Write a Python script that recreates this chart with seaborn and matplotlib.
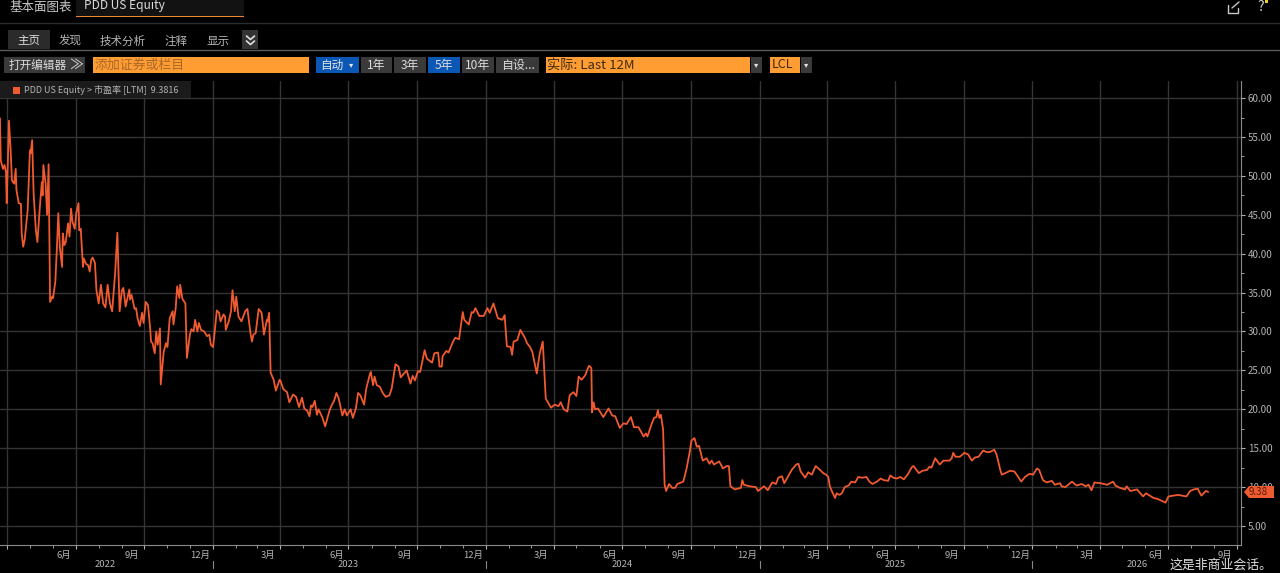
import pandas as pd
import numpy as np
import matplotlib
matplotlib.use('Agg')
import matplotlib.pyplot as plt
import matplotlib.dates as mdates
from matplotlib.patches import Rectangle, Polygon
from matplotlib.ticker import MultipleLocator, FormatStrFormatter
import seaborn as sns

# PDD US Equity - trailing P/E
start_date = '2022-04-01'

days = [-10,-9,-6,-4,-2,-1,2,4,6,9,11,12,15,18,19,21,23,27,30,31,33,35,38,40,44,46,47,48,51,53,55,57,60,61,64,66,68,70,73,74,76,78,81,83,85,87,90,92,95,96,98,
        101,102,105,108,110,112,114,117,119,122,125,128,131,134,137,140,144,147,150,153,155,158,163,164,166,170,172,174,177,180,182,185,188,191,192,194,197,199,
        201,204,205,209,212,214,217,221,222,225,227,230,231,234,238,240,244,246,249,251,254,256,259,263,267,270,272,275,277,280,283,285,289,291,292,296,299,
        301,304,306,309,313,318,321,325,327,329,332,336,340,343,347,348,350,352,356,359,364,
        365,369,374,377,382,386,390,394,397,401,404,406,408,411,414,416,421,425,428,431,434,437,440,443,448,451,454,459,462,466,469,472,477,480,485,486,489,491,494,498,
        502,506,511,514,519,523,526,534,539,542,545,549,552,558,561,568,571,576,578,581,582,587,590,596,599,604,609,611,617,621,623,626,631,637,642,645,650,656,662,665,668,673,675,677,682,686,692,695,699,
        702,708,712,716,720,724,727,732,737,740,744,749,752,757,761,764,
        768,773,776,778,781,782,784,786,790,797,804,809,813,819,824,828,834,838,844,851,854,856,862,865,868,870,872,874,877,879,881,885,889,893,896,
        904,908,912,915,919,922,925,930,935,939,942,945,952,957,962,965,967,973,981,983,985,993,1001,1004,1012,1017,1023,1028,1031,1036,1039,1049,1055,1058,1061,1067,1071,1076,1081,1087,
        1091,1095,1098,1100,1104,1107,1109,1113,1116,1120,1125,1129,1134,1138,1143,1149,1153,1157,1163,1168,1172,1178,1181,1185,1190,1194,1199,1204,1210,1212,1219,1224,1230,1233,1236,
        1241,1247,1252,1260,1263,1265,1268,1274,1280,1285,1290,1294,1299,1305,1310,1314,1320,1323,1326,1328,1330,1335,1341,1347,1352,1356,1361,1367,1372,1377,1380,1385,1390,1397,
        1401,1408,1410,1415,1424,1430,1437,1442,1446,1450,1454,1462,1471,1479,1482,1488,1495,1497,1502,1511,1519,1523,1533,1538,1549,1553,1560,1566,1571,1577,1582,1587,1592,1597,1600,1603,1606]

pe_values = [57.4,52.0,50.9,51.4,50.5,46.5,57.1,53.7,49.4,49.0,50.9,48.2,46.5,46.4,42.6,40.9,41.8,45.6,53.3,52.9,54.6,47.7,43.0,41.5,46.9,49.2,47.5,51.4,49.0,45.0,51.5,33.8,34.5,34.3,36.4,40.5,45.2,40.9,38.3,42.6,41.1,41.5,43.9,42.2,45.8,44.1,43.2,45.2,46.5,43.0,43.2,
             38.3,39.4,38.7,38.5,37.7,39.2,39.5,38.8,35.3,33.6,36.0,33.6,33.1,36.0,33.6,32.6,37.5,42.7,32.6,35.3,35.6,33.2,35.4,34.1,34.7,32.9,33.0,31.7,30.7,32.4,31.1,33.8,33.4,30.2,28.7,28.5,27.2,30.0,
             28.3,30.4,23.2,27.4,28.5,28.0,31.7,32.6,30.9,33.0,35.8,34.3,36.0,34.2,33.6,26.6,29.6,30.3,30.0,31.5,30.0,31.1,30.2,30.0,29.4,29.6,28.3,28.0,29.8,32.7,32.4,31.3,32.2,31.9,30.2,31.3,32.6,
             35.3,32.6,34.5,31.9,31.3,32.6,32.9,29.8,28.7,29.6,29.8,32.9,32.4,29.6,31.5,31.3,32.4,24.7,23.8,22.4,23.8,
             23.7,22.6,22.2,20.9,21.9,21.6,20.3,21.5,20.1,19.8,19.1,20.5,20.3,21.1,19.3,20.0,19.0,17.8,18.9,19.9,20.6,21.1,22.1,21.4,19.2,20.0,19.2,20.0,18.9,20.1,22.1,21.8,20.6,22.7,24.6,24.8,23.1,24.2,23.1,22.9,
             22.1,21.6,21.8,22.7,25.8,25.5,24.1,25.0,23.3,24.3,23.7,24.9,24.8,27.6,26.5,26.0,27.2,27.3,25.5,25.5,26.8,27.5,27.3,28.7,29.2,29.0,32.5,31.5,30.9,32.5,32.4,33.0,32.0,32.0,33.0,32.4,33.6,31.7,31.5,32.1,28.1,28.0,27.0,28.7,28.9,30.2,29.2,28.5,28.0,
             27.4,24.6,27.2,28.7,21.4,20.7,20.2,20.6,20.4,20.9,20.0,19.7,21.8,22.2,21.7,24.2,
             23.8,24.4,25.2,25.6,25.3,19.6,20.9,20.0,20.1,19.0,20.1,19.2,19.1,17.6,18.2,18.1,19.0,17.7,17.7,16.5,16.9,16.5,18.2,18.9,19.0,19.9,18.9,19.3,17.4,10.3,9.5,10.4,9.9,9.9,10.4,
             10.7,12.2,14.2,16.0,16.3,15.2,15.3,13.4,13.7,13.0,13.4,12.9,13.3,12.4,12.7,12.7,10.1,9.7,9.9,10.9,10.3,10.1,10.0,9.5,10.1,9.6,10.6,10.4,11.2,11.4,10.5,12.2,12.9,13.0,12.0,11.2,11.9,11.6,12.7,12.2,
             11.8,11.6,11.3,10.1,9.2,8.6,9.2,9.0,9.2,10.0,10.2,10.7,10.6,11.3,11.2,11.3,10.7,10.4,10.7,11.1,10.9,10.8,11.5,11.2,11.1,11.3,11.0,11.6,12.6,12.7,11.8,12.1,12.2,12.6,12.5,
             13.7,12.9,13.4,13.4,13.7,14.4,13.9,13.9,14.4,14.2,13.4,13.8,13.9,14.7,14.5,14.5,14.8,14.2,13.0,12.2,11.6,11.8,12.1,12.0,11.3,10.7,11.3,11.7,11.6,12.4,12.2,10.9,10.6,10.8,
             10.3,10.5,10.1,10.0,10.7,10.2,10.4,10.1,10.3,9.6,10.6,10.5,10.3,10.7,10.2,9.9,9.7,10.1,9.5,9.7,8.8,9.2,8.6,8.5,8.0,8.8,8.9,9.0,8.9,8.8,9.5,9.7,9.8,8.9,9.2,9.5,9.38]

month_names = ['6月','9月','12月','3月','6月','9月','12月','3月','6月','9月','12月','3月','6月','9月','12月','3月','6月','9月']
month_dates = ['2022-06-15','2022-09-15','2022-12-15','2023-03-15','2023-06-15','2023-09-15','2023-12-15',
               '2024-03-15','2024-06-15','2024-09-15','2024-12-15','2025-03-15','2025-06-15','2025-09-15','2025-12-15',
               '2026-03-15','2026-06-15','2026-09-15']
year_names = ['2022','2023','2024','2025','2026']
year_dates = ['2022-08-09','2023-07-01','2024-07-01','2025-07-01','2026-05-21']
year_breaks = ['2023-01-01','2024-01-01','2025-01-01','2026-01-01']

LINE = '#f05a30'
GRID = '#343434'
TXT = '#b4b4b4'
ORANGE = '#ff9d33'
BLUE = '#0b57b6'
BTN = '#3a3a3a'

df = pd.DataFrame({'date': pd.to_datetime(start_date) + pd.to_timedelta(days, unit='D'), 'pe': pe_values})

sns.set_style('dark')
plt.rcParams['font.family'] = ['Noto Sans CJK SC', 'DejaVu Sans']

fig = plt.figure(figsize=(12.8, 5.73), dpi=100, facecolor='black')
ax = fig.add_axes([0, 1 - 544.5 / 573, 1241 / 1280, (544.5 - 81) / 573], facecolor='black')

sns.lineplot(data=df, x='date', y='pe', color=LINE, linewidth=1.3, estimator=None, ax=ax, zorder=3)

ax.set_xlim(pd.Timestamp(start_date) - pd.Timedelta(days=10), pd.Timestamp(start_date) + pd.Timedelta(days=1650))
ax.set_ylim(2.62, 62.2)
ax.set_xlabel('')
ax.set_ylabel('')

# y axis on the right
ax.yaxis.tick_right()
ax.yaxis.set_major_locator(MultipleLocator(5))
ax.yaxis.set_minor_locator(MultipleLocator(2.5))
ax.yaxis.set_major_formatter(FormatStrFormatter('%.2f'))
ax.tick_params(axis='y', which='major', colors=TXT, labelsize=7, length=3, width=0.8, pad=2, right=True, left=False)
ax.tick_params(axis='y', which='minor', color=TXT, length=2, width=0.6, right=True, left=False)

# month ticks, gridline every 3 months
ax.xaxis.set_major_locator(mdates.MonthLocator(bymonth=[1, 4, 7, 10]))
ax.xaxis.set_minor_locator(mdates.MonthLocator())
ax.xaxis.set_major_formatter(plt.NullFormatter())
ax.tick_params(axis='x', which='major', color=TXT, length=3, width=0.8, bottom=True)
ax.tick_params(axis='x', which='minor', color=TXT, length=2, width=0.6, bottom=True)

ax.grid(True, which='major', color=GRID, linewidth=1)
ax.set_axisbelow(True)
for s in ['top', 'left']:
    ax.spines[s].set_visible(False)
for s in ['right', 'bottom']:
    ax.spines[s].set_visible(True)
    ax.spines[s].set_color('#8a8a8a')
    ax.spines[s].set_linewidth(0.8)

# month and year labels below the axis
trans = ax.get_xaxis_transform()
for name, d in zip(month_names, month_dates):
    ax.annotate(name, (mdates.date2num(pd.Timestamp(d)), 0), xycoords=trans, xytext=(0, -4.5), textcoords='offset points',
                ha='center', va='top', color=TXT, fontsize=6.8, annotation_clip=False)
for name, d in zip(year_names, year_dates):
    ax.annotate(name, (mdates.date2num(pd.Timestamp(d)), 0), xycoords=trans, xytext=(0, -11.5), textcoords='offset points',
                ha='center', va='top', color=TXT, fontsize=6.8, annotation_clip=False)
for d in year_breaks:
    xd = mdates.date2num(pd.Timestamp(d))
    ax.plot([xd, xd], [-0.05, -0.036], color='#8a8a8a', lw=0.8, transform=trans, clip_on=False)

# screen chrome, in pixel coordinates of the picture
ui = fig.add_axes([0, 0, 1, 1], facecolor='none')
ui.set_xlim(0, 1280)
ui.set_ylim(573, 0)
ui.axis('off')


def box(x0, y0, x1, y1, color, z=2):
    ui.add_patch(Rectangle((x0, y0), x1 - x0, y1 - y0, facecolor=color, edgecolor='none', zorder=z))


def label(x, y, s, color='#c8c8c8', size=8, ha='left'):
    ui.text(x, y, s, color=color, fontsize=size, ha=ha, va='center', zorder=5)


ui.plot([0, 1280], [22.5, 22.5], color='#2c2c2c', lw=1)
ui.plot([0, 1280], [49.5, 49.5], color='#5a5a5a', lw=1)

# top tab row
label(9, 7, '基本面图表', size=9)
box(76, 0, 244, 15.5, '#121212')
box(76, 15.5, 244, 17, '#f08a28')
label(84, 6, 'PDD US Equity', color='#dcdcdc', size=8.6)

# icons top right
ui.plot([1228, 1228, 1238, 1238], [5, 13, 13, 8], color='#c8c8c8', lw=1)
ui.plot([1232, 1239], [8, 2], color='#c8c8c8', lw=1)
label(1261, 7, '?', color='#d0d0d0', size=10, ha='center')
box(1265, 0, 1268, 3, '#f0d030')

# second tab row
box(8, 30, 50, 49, '#2b2b2b')
for x, s, c in zip([29, 70, 123, 176, 218], ['主页', '发现', '技术分析', '注释', '显示'],
                   ['#dcdcdc', TXT, TXT, TXT, TXT]):
    label(x, 41, s, color=c, size=8.3, ha='center')
box(242, 30, 258, 49, '#333333')
for y in [36, 41]:
    ui.plot([246.5, 250.5, 254.5], [y, y + 3.5, y], color='#e0e0e0', lw=1.2, zorder=5)

# toolbar
box(4, 57, 85, 73, BTN)
label(9, 65, '打开编辑器', color='#dcdcdc', size=8.4)
label(69, 64.5, '≫', color='#dcdcdc', size=10)
box(93, 57, 309, 73, ORANGE)
label(95, 65, '添加证券或栏目', color='#a8682a', size=9.3)
box(316, 57, 359, 73, BLUE)
label(320, 65, '自动', color='#e4e4e4', size=8.4)
label(351, 65, '▾', color='#e4e4e4', size=6, ha='center')
for x0, x1, s, c in zip([361, 394, 428, 462, 496], [392, 426, 460, 494, 539],
                        ['1年', '3年', '5年', '10年', '自设...'], [BTN, BTN, BLUE, BTN, BTN]):
    box(x0, 57, x1, 73, c)
    label((x0 + x1) / 2, 65, s, color='#dcdcdc', size=8.6, ha='center')
box(546, 57, 750, 73, ORANGE)
label(547, 65, '实际: Last 12M', color='#3c2a10', size=9.5)
box(751, 57, 762, 73, BTN)
label(756.5, 65, '▾', color='#e4e4e4', size=6, ha='center')
box(770, 57, 800, 73, ORANGE)
label(772, 65, 'LCL', color='#3c2a10', size=9)
box(801, 57, 812, 73, BTN)
label(806.5, 65, '▾', color='#e4e4e4', size=6, ha='center')

# legend strip of the chart
box(0, 81, 191, 98, '#1b1b1b')
box(13, 87, 20, 94, LINE)
label(24, 90, 'PDD US Equity > 市盈率 [LTM]  9.3816', color=TXT, size=6.5)

# last value tag
ui.add_patch(Polygon([[1244, 492], [1249, 486], [1274, 486], [1274, 498], [1249, 498]], facecolor=LINE, edgecolor='none', zorder=4))
label(1248.5, 492, '9.38', color='#5a1a08', size=7)

label(1170, 565.5, '这是非商业会话。', color='#dedede', size=9.3)

plt.savefig('out.png', dpi=100, facecolor='black')
